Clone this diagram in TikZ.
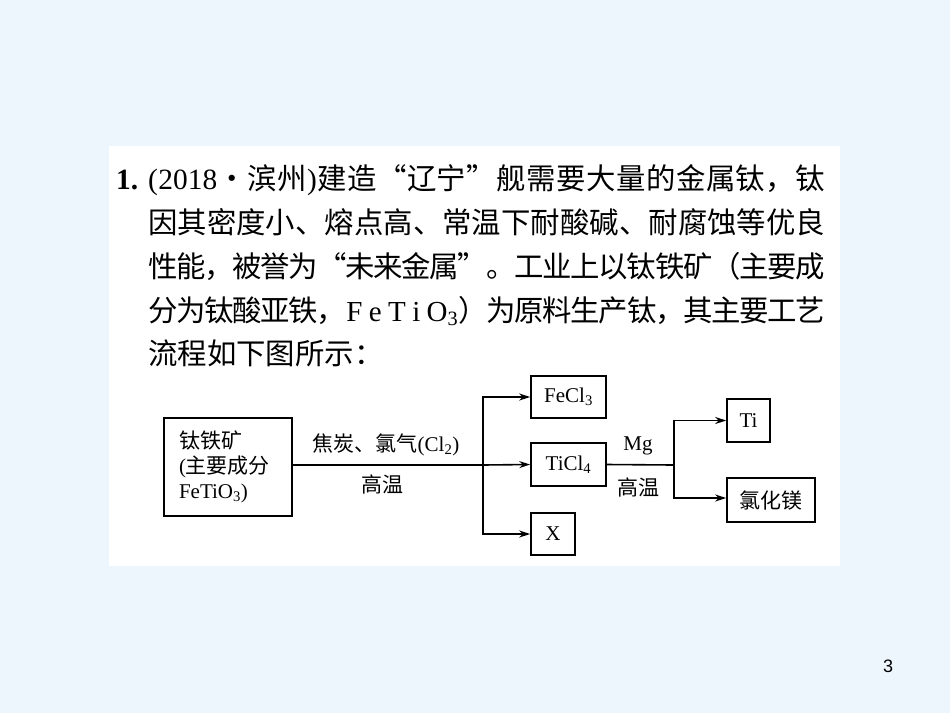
\documentclass[tikz,border=0pt]{standalone}
\usepackage{fontspec}
\setmainfont{Liberation Serif}
\newfontfamily\cjk{Noto Sans CJK SC}
\newfontfamily\arialfont{Liberation Sans}
\usetikzlibrary{arrows.meta}
\definecolor{bgblue}{RGB}{238,246,253}
\newcommand\zh[1]{{\cjk #1}}
\def\gapglue{\hskip 0pt plus 1fil minus 1fil\relax}
\def\spreadit#1{#1\spreadrest}
\def\spreadrest#1{\ifx#1\endspread\else\gapglue #1\expandafter\spreadrest\fi}
\newcommand\zs[1]{{\cjk\spreadit#1\endspread}}
\newcommand\jline[1]{\makebox[677pt][s]{#1}}
\tikzset{
  txt/.style={font=\fontsize{29.4}{29.4}\selectfont, anchor=base west, inner sep=0pt},
  dia/.style={font=\fontsize{21}{25}\selectfont, inner sep=0pt},
  box/.style={draw, line width=1.6pt, inner sep=0pt, font=\fontsize{21}{25}\selectfont},
  link/.style={line width=1.6pt},
  flow/.style={line width=1.6pt, -{Stealth[length=11pt,width=7pt]}}
}
\begin{document}
\begin{tikzpicture}[x=1pt,y=-1pt]
\fill[bgblue] (0,0) rectangle (950,713);
\useasboundingbox (0,0) rectangle (950,713);
\fill[white] (109,146) rectangle (840,566);
% question text
\node[txt] (n1) at (116,189) {\textbf{1.}};
\node[txt] (l1) at (148,189) {\jline{(\gapglue 2018\gapglue\zs{・滨州})\gapglue\zs{建造“辽宁”舰需要大量的金属钛，钛}}};
\node[txt] (l2) at (148,233) {\jline{\zs{因其密度小、熔点高、常温下耐酸碱、耐腐蚀等优良}}};
\node[txt] (l3) at (148,277) {\jline{\zs{性能，被誉为“未来金属”。工业上以钛铁矿（主要成}}};
\node[txt] (l4) at (148,321) {\jline{\zs{分为钛酸亚铁，}{\fontsize{29}{29}\selectfont\makebox[112pt][s]{F\hfil e\hfil T\hfil i\hfil O\textsubscript{3}}}\zs{）为原料生产钛，其主要工艺}}};
\node[txt] (l5) at (148,364) {\zh{流程如下图所示：}};
% flow chart
\node[box, minimum width=128pt, minimum height=98pt, text width=98pt, align=left, inner xsep=15pt] (ore) at (228,467)
  {\zh{钛铁矿}\\(\zh{主要成分}\\FeTiO\textsubscript{3})};
\node[box, minimum width=75pt, minimum height=42pt] (fecl) at (568.5,397) {FeCl\textsubscript{3}};
\node[box, minimum width=75pt, minimum height=43pt] (ticl) at (568.5,464.5) {TiCl\textsubscript{4}};
\node[box, minimum width=44pt, minimum height=42pt] (xb) at (553,534) {X};
\node[box, minimum width=43pt, minimum height=43pt] (ti) at (748.5,420.5) {Ti};
\node[box, minimum width=88pt, minimum height=44pt] (mgcl) at (771,500) {\zh{氯化镁}};
\coordinate (j1) at (483,465);
\coordinate (j2) at (674,465);
\draw[link] (ore.east |- j1) -- (j1);
\draw[flow] (j1) |- (fecl.west);
\draw[flow] (j1) -- (ticl.west);
\draw[flow] (j1) |- (xb.west);
\draw[link] (ticl.east) -- (j2);
\draw[flow] (j2) |- (ti.west);
\draw[flow] (j2) |- ([yshift=2pt]mgcl.west);
\node[dia] (lab1) at (386,445) {\zh{焦炭、氯气}(Cl\textsubscript{2})};
\node[dia] (lab2) at (382,484) {\zh{高温}};
\node[dia] (lab3) at (638,446) {Mg};
\node[dia] (lab4) at (638,487) {\zh{高温}};
\node[font=\arialfont\fontsize{18}{18}\selectfont, inner sep=0pt] (pg) at (888,666) {3};
\end{tikzpicture}
\end{document}
